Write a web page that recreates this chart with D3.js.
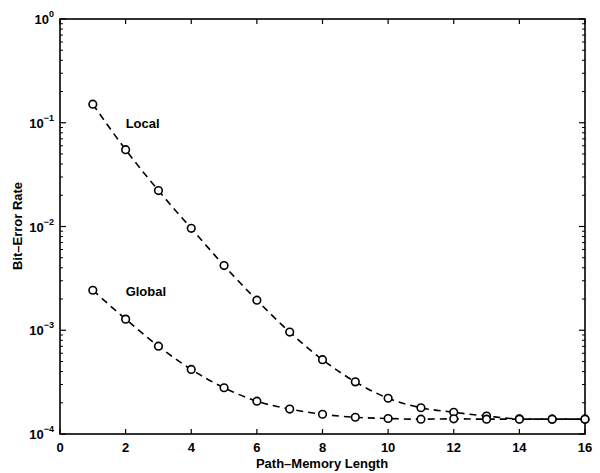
<!DOCTYPE html>
<html><head><meta charset="utf-8">
<script src="https://cdn.jsdelivr.net/npm/d3@7"></script>
<style>body{margin:0;background:#fff}svg{display:block}text{font-family:"Liberation Sans",Arial,sans-serif;fill:#000}</style>
</head><body><svg id="c" width="600" height="473"></svg>
<script>
const pathLength = [1,2,3,4,5,6,7,8,9,10,11,12,13,14,15,16];
const localBER = [0.151,0.055,0.0222,0.0096,0.0042,0.00195,0.00096,0.00052,0.000318,0.000221,0.000179,0.000162,0.000149,0.000140,0.000139,0.000139];
const globalBER = [0.00243,0.00128,0.000702,0.000419,0.000279,0.000207,0.000174,0.000155,0.000145,0.000141,0.000139,0.000140,0.000139,0.000139,0.000139,0.000139];
const xTicks = [0,2,4,6,8,10,12,14,16];
const yExponents = [0,-1,-2,-3,-4];
const seriesLabels = [{name:"Local", x:2.0, y:0.1}, {name:"Global", x:2.0, y:0.0024}];

const svg = d3.select("#c");
const L=60,R=585,T=19,B=434;
const x = d3.scaleLinear().domain([0,16]).range([L,R]);
const y = d3.scaleLog().domain([1e-4,1]).range([B,T]);

const g = svg.append("g");
const minor=[];
for(let e=-4;e<0;e++) for(let k=2;k<=9;k++) minor.push(k*Math.pow(10,e));
minor.forEach(v=>{
  g.append("line").attr("x1",L).attr("x2",L+3).attr("y1",y(v)).attr("y2",y(v)).attr("stroke","#000").attr("stroke-width",1);
  g.append("line").attr("x1",R).attr("x2",R-3).attr("y1",y(v)).attr("y2",y(v)).attr("stroke","#000").attr("stroke-width",1);
});
yExponents.forEach(e=>{
  const v=Math.pow(10,e);
  g.append("line").attr("x1",L).attr("x2",L+6).attr("y1",y(v)).attr("y2",y(v)).attr("stroke","#000").attr("stroke-width",1.2);
  g.append("line").attr("x1",R).attr("x2",R-6).attr("y1",y(v)).attr("y2",y(v)).attr("stroke","#000").attr("stroke-width",1.2);
  const t=g.append("text").attr("x",L-6).attr("y",y(v)+5).attr("text-anchor","end").style("font-size","13px").style("font-weight","bold");
  t.append("tspan").text("10");
  t.append("tspan").attr("dy",-7).style("font-size","9px").text(String(e).replace("-","\u2212"));
});
xTicks.forEach(v=>{
  g.append("line").attr("x1",x(v)).attr("x2",x(v)).attr("y1",B).attr("y2",B-5).attr("stroke","#000").attr("stroke-width",1.2);
  g.append("line").attr("x1",x(v)).attr("x2",x(v)).attr("y1",T).attr("y2",T+5).attr("stroke","#000").attr("stroke-width",1.2);
  g.append("text").attr("x",x(v)).attr("y",B+18).attr("text-anchor","middle").style("font-size","13px").style("font-weight","bold").text(v);
});
g.append("rect").attr("x",L).attr("y",T).attr("width",R-L).attr("height",B-T).attr("fill","none").attr("stroke","#000").attr("stroke-width",1.6);

const line = d3.line().x((d,i)=>x(pathLength[i])).y(d=>y(d)).curve(d3.curveMonotoneX);
[localBER, globalBER].forEach(s=>{
  g.append("path").attr("d",line(s)).attr("fill","none").attr("stroke","#000").attr("stroke-width",1.6).attr("stroke-dasharray","7,5");
  g.selectAll(null).data(s).enter().append("circle").attr("cx",(d,i)=>x(pathLength[i])).attr("cy",d=>y(d)).attr("r",3.8)
   .attr("fill","#fff").attr("stroke","#000").attr("stroke-width",1.6);
});
seriesLabels.forEach(l=>{
  g.append("text").attr("x",x(l.x)).attr("y",y(l.y)+5).style("font-size","13px").style("font-weight","bold").text(l.name);
});
svg.append("text").attr("x",322).attr("y",468).attr("text-anchor","middle").style("font-size","13px").style("font-weight","bold").text("Path\u2013Memory Length");
svg.append("text").attr("transform","translate(22,226) rotate(-90)").attr("text-anchor","middle").style("font-size","13px").style("font-weight","bold").text("Bit\u2013Error Rate");
</script></body></html>
